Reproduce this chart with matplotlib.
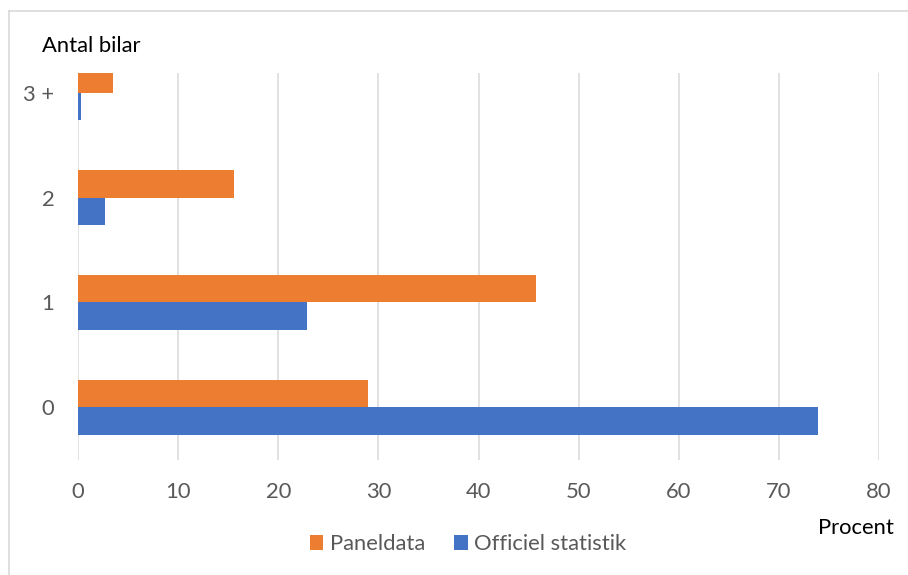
import matplotlib
matplotlib.use("Agg")
import matplotlib.pyplot as plt
from matplotlib.lines import Line2D
import numpy as np

plt.rcParams['font.family'] = ['Lato', 'DejaVu Sans']

categories = ["0", "1", "2", "3 +"]
paneldata = [29.0, 45.7, 15.6, 3.5]
officiel = [73.9, 22.9, 2.7, 0.3]
x_ticks = [0, 10, 20, 30, 40, 50, 60, 70, 80]

ORANGE = "#ED7D31"
BLUE = "#4472C4"
GREY_TXT = "#595959"
GRID = "#D9D9D9"
FS = 15.8

W, H = 908, 575
fig = plt.figure(figsize=(W / 100, H / 100), dpi=100)
ax = fig.add_axes([78 / W, 1 - 460 / H, (879 - 78) / W, (460 - 73) / H])

y = np.arange(len(categories))
h = 0.26
ax.barh(y + h / 2, paneldata, height=h, color=ORANGE, label="Paneldata", zorder=3)
ax.barh(y - h / 2, officiel, height=h, color=BLUE, label="Officiel statistik", zorder=3)

ax.set_xlim(0, 80)
ax.set_ylim(-0.502, 3.188)
ax.set_xticks(x_ticks)
ax.set_xticklabels([str(v) for v in x_ticks])
ax.set_yticks(y)
ax.set_yticklabels(categories)
ax.tick_params(axis='both', length=0, labelsize=FS, colors=GREY_TXT)
ax.tick_params(axis='x', pad=16)
ax.tick_params(axis='y', pad=17)
ax.grid(axis='x', color=GRID, linewidth=1.1, zorder=0)
for s in ax.spines.values():
    s.set_visible(False)

fig.text(42 / W, 1 - 46 / H, "Antal bilar", fontsize=FS, color="black",
         ha="left", va="center")
fig.text(894 / W, 1 - 528 / H, "Procent", fontsize=FS, color="black",
         ha="right", va="center")

handles, labels = ax.get_legend_handles_labels()
fig.legend(handles, labels, loc="center", bbox_to_anchor=(468 / W, 1 - 544 / H),
           ncol=2, frameon=False, fontsize=FS, labelcolor=GREY_TXT,
           handlelength=0.6, handleheight=0.64, handletextpad=0.3,
           columnspacing=1.35, borderpad=0, borderaxespad=0)

# outer chart border (top and left edges)
fig.add_artist(Line2D([9 / W, 9 / W], [0, 1 - 11 / H], transform=fig.transFigure,
                      color=GRID, linewidth=1.2))
fig.add_artist(Line2D([9 / W, 1], [1 - 11 / H, 1 - 11 / H], transform=fig.transFigure,
                      color=GRID, linewidth=1.2))

fig.savefig("out.png", dpi=100, facecolor="white")
